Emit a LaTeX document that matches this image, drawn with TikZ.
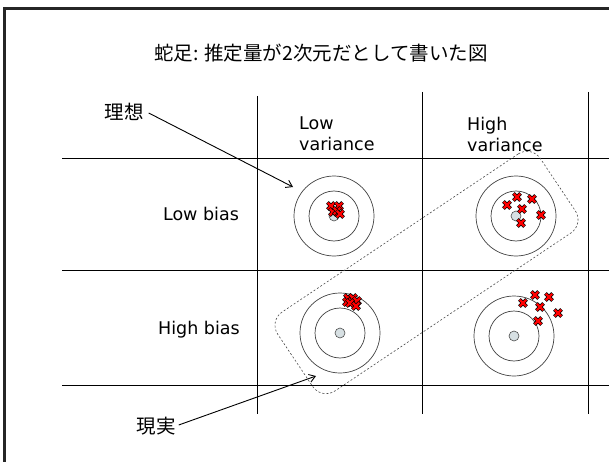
\documentclass[tikz,border=0pt]{standalone}
\usepackage{fontspec}
\setmainfont{DejaVu Sans}
\newfontfamily\cjk{Noto Sans CJK JP}
\usetikzlibrary{arrows.meta}
\begin{document}
\begin{tikzpicture}[x=1pt,y=-1pt,
  grid/.style={draw=black,line width=1pt},
  ring/.style={draw=black!75,line width=0.7pt},
  bull/.style={circle,draw=black!70,line width=0.6pt,fill=cyan!20!gray!30,minimum size=10pt,inner sep=0pt},
  lbl/.style={font=\fontsize{17.5}{21}\selectfont,inner sep=0pt},
  jlbl/.style={font=\cjk\fontsize{19.5}{22}\selectfont,inner sep=0pt},
  arr/.style={draw=black,line width=0.9pt,-{Straight Barb[length=6pt,width=8pt]}},
  rx/.pic={\draw[black,line width=3.8pt] (-3.6,-3.6)--(3.6,3.6) (-3.6,3.6)--(3.6,-3.6);
           \draw[red,line width=2.2pt] (-3.2,-3.2)--(3.2,3.2) (-3.2,3.2)--(3.2,-3.2);}
]
\useasboundingbox (0,0) rectangle (609,462);
% frame
\draw[black!85,line width=3pt] (4.5,462) -- (4.5,8.5) -- (609,8.5);
% grid
\coordinate (h1a) at (62,159); \coordinate (h1b) at (609,159);
\coordinate (h2a) at (62,270); \coordinate (h2b) at (609,270);
\coordinate (h3a) at (62,385); \coordinate (h3b) at (609,385);
\coordinate (v1a) at (257,96); \coordinate (v1b) at (257,414);
\coordinate (v2a) at (422,92); \coordinate (v2b) at (422,414);
\coordinate (v3a) at (588,92); \coordinate (v3b) at (588,414);
\draw[grid] (h1a)--(h1b) (h2a)--(h2b) (h3a)--(h3b) (v1a)--(v1b) (v2a)--(v2b) (v3a)--(v3b);
% title
\node[jlbl] (title) at (321,53) {蛇足: 推定量が2次元だとして書いた図};
% column and row labels
\node[lbl,anchor=north west,align=left] (lowvar) at (299,117) {Low\\variance};
\node[lbl,anchor=north west,align=left] (highvar) at (467,117) {High\\variance};
\node[lbl] (lowbias) at (201,214) {Low bias};
\node[lbl] (highbias) at (199,330) {High bias};
% targets
\foreach \n/\cx/\cy in {t1/334/216, t2/516/216, t3/340/333, t4/514/336}{
  \draw[ring] (\cx,\cy) circle (40);
  \draw[ring] (\cx,\cy) circle (25);
  \node[bull] (\n) at (\cx,\cy) {};
}
% crosses
\foreach \px/\py in {331/206, 339/206, 333/212, 337/211, 340/214}{ \pic at (\px,\py) {rx}; }
\foreach \px/\py in {517/197, 532/199, 507/205, 522/209, 541/215, 521/223}{ \pic at (\px,\py) {rx}; }
\foreach \px/\py in {348/298, 353/298, 347/302, 350/303, 357/301, 356/306}{ \pic at (\px,\py) {rx}; }
\foreach \px/\py in {535/295, 549/297, 523/303, 540/307, 558/313, 538/321}{ \pic at (\px,\py) {rx}; }
% dashed region
\node[draw=black!70,line width=0.6pt,dash pattern=on 2pt off 2pt,rounded corners=16pt,
      minimum width=316pt,minimum height=95pt,rotate=33.8] (region) at (426.5,272.5) {};
% annotations
\node[jlbl] (ideal) at (124,112) {理想};
\node[jlbl] (real) at (156,426) {現実};
\coordinate (idealtip) at (293,187);
\coordinate (realtip) at (316,376);
\draw[arr] (ideal.east) ++(5,1) -- (idealtip);
\draw[arr] (real.east) ++(3,-1) -- (realtip);
\end{tikzpicture}
\end{document}
